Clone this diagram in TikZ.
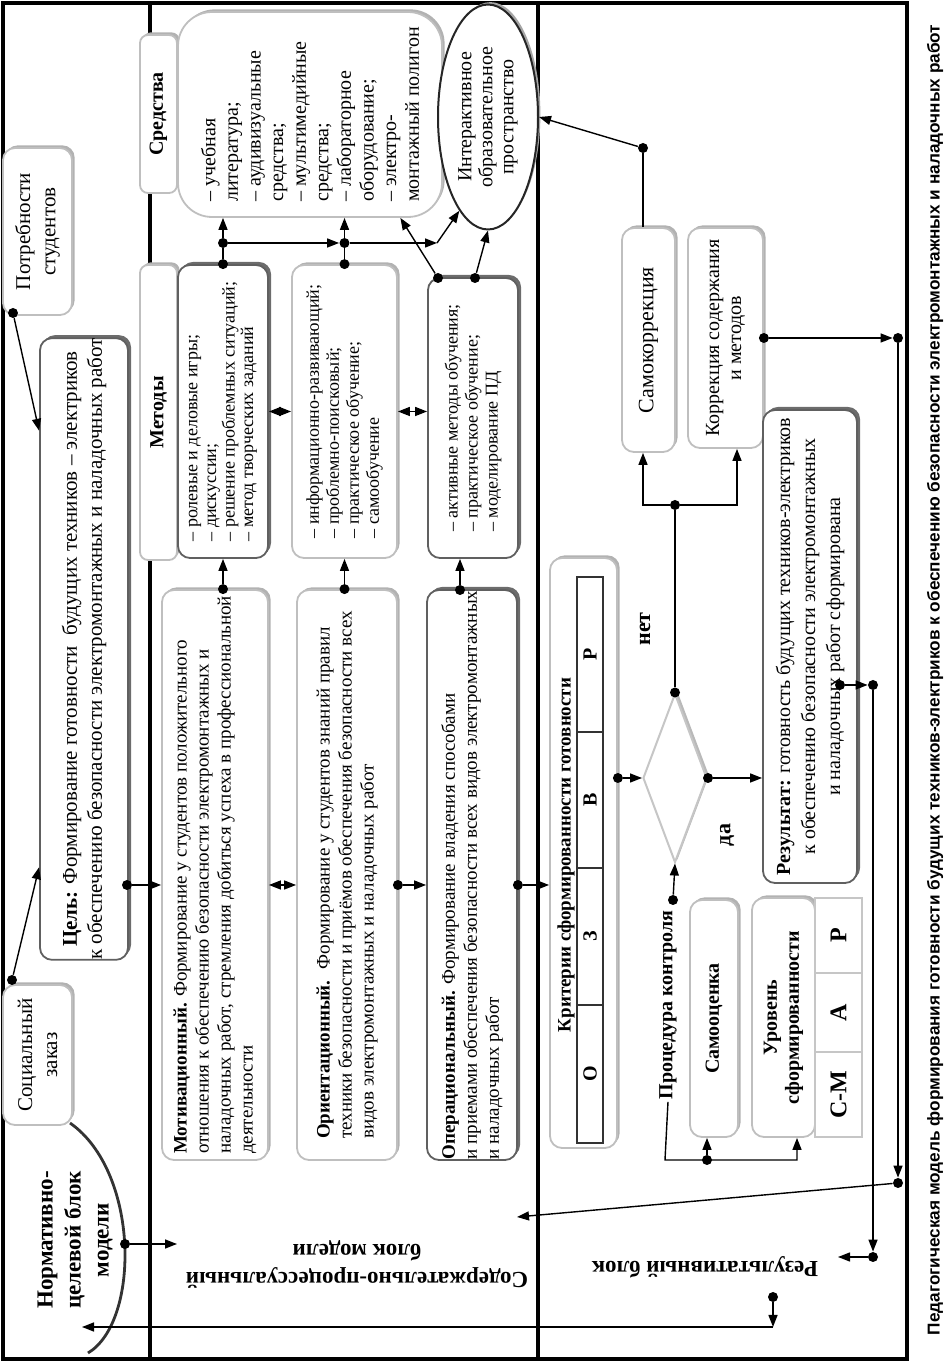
\documentclass[tikz,border=0pt]{standalone}
\usepackage{fontspec}
\setmainfont{Liberation Serif}
\newfontfamily\captionfont{Liberation Sans}
\usetikzlibrary{arrows.meta,shapes.geometric,shadows,calc}

\begin{document}
\begin{tikzpicture}[x=0.5pt, y=0.5pt,
  box/.style={draw=gray!50, line width=0.9pt, rounded corners=6pt, fill=white,
    drop shadow={shadow xshift=1.3pt, shadow yshift=1.3pt, fill=gray!60, opacity=1},
    inner sep=0pt, align=center, font=\fontsize{10}{11}\selectfont},
  darkbox/.style={box, draw=gray!75!black,
    drop shadow={shadow xshift=1.5pt, shadow yshift=1.5pt, fill=gray!85!black, opacity=1}},
  tabbox/.style={box, rounded corners=4pt, font=\bfseries\fontsize{10}{12}\selectfont},
  cell/.style={draw=gray!45, line width=0.6pt, inner sep=0pt, font=\bfseries\fontsize{12}{12}\selectfont},
  lbl/.style={font=\bfseries\fontsize{10}{11}\selectfont, inner sep=1pt, align=center},
  blocklbl/.style={font=\bfseries\fontsize{11.5}{14}\selectfont, align=center},
  dot/.style={circle, fill=black, inner sep=0pt, minimum size=5pt},
  arr/.style={-{Triangle[length=6pt, width=4.5pt]}, line width=0.7pt},
  dblarr/.style={{Triangle[length=6pt, width=4.5pt]}-{Triangle[length=6pt, width=4.5pt]}, line width=0.7pt},
  conn/.style={line width=0.7pt},
  thickline/.style={line width=2pt}
]
\begin{scope}[rotate=90, transform shape]
\useasboundingbox (0,0) rectangle (1362,-950);

% Frame and block borders
\draw[thickline] (3,-3) rectangle (1359,-907);
\draw[thickline] (3,-150) -- (1359,-150);
\draw[thickline] (3,-538) -- (1359,-538);

% Normative-target block
\node[box, minimum width=70pt, minimum height=34.5pt, font=\fontsize{10.5}{12.5}\selectfont] (order) at (307,-37.5) {Социальный\\заказ};
\node[box, minimum width=83.5pt, minimum height=34.5pt, font=\fontsize{10.5}{12.5}\selectfont] (needs) at (1130.5,-37.5) {Потребности\\студентов};
\node[darkbox, minimum width=286pt, minimum height=44pt, font=\fontsize{10.5}{12.5}\selectfont] (goal) at (713,-84) {\textbf{Цель:} Формирование готовности~ будущих техников – электриков\\к обеспечению безопасности электромонтажных и наладочных работ};
\draw[line width=1.4pt, black!80] (239,-70) .. controls (190,-140) and (40,-140) .. (9,-88);
\node[blocklbl] (normlbl) at (122,-75) {Нормативно-\\целевой блок\\модели};

% Content-process block
\node[blocklbl, rotate=90] (contlbl) at (98,-357) {Содержательно-процессуальный\\блок модели};
\node[box, minimum width=285pt, minimum height=53pt, align=left, font=\fontsize{9.5}{11}\selectfont] (motiv) at (487,-215) {\textbf{Мотивационный.} Формирование у студентов положительного\\отношения к обеспечению безопасности электромонтажных и\\наладочных работ, стремления добиться успеха в профессиональной\\деятельности};
\node[box, minimum width=285pt, minimum height=50pt, align=left, font=\fontsize{9.5}{11}\selectfont] (orient) at (487,-347) {\textbf{Ориентационный.}~ Формирование у студентов знаний правил\\техники безопасности и приёмов обеспечения безопасности всех\\видов электромонтажных и наладочных работ};
\node[darkbox, minimum width=285pt, minimum height=45pt, align=left, font=\fontsize{9.5}{11}\selectfont] (operat) at (487,-472) {\textbf{Операциональный.} Формирование владения способами\\и приемами обеспечения безопасности всех видов электромонтажных\\и наладочных работ};

% Methods
\node[tabbox, minimum width=147.5pt, minimum height=18.5pt] (methtab) at (949.5,-158.5) {Методы};
\node[darkbox, minimum width=146.5pt, minimum height=45pt, align=left, font=\fontsize{9}{9.3}\selectfont] (meth1) at (950.5,-223) {– ролевые и деловые игры;\\– дискуссии;\\– решение проблемных ситуаций;\\– метод творческих заданий};
\node[box, minimum width=146.5pt, minimum height=52.5pt, align=left, font=\fontsize{9}{10}\selectfont] (meth2) at (950.5,-344.5) {– информационно-развивающий;\\– проблемно-поисковый;\\– практическое обучение;\\– самообучение};
\node[darkbox, minimum width=140pt, minimum height=45pt, align=left, font=\fontsize{9}{10}\selectfont] (meth3) at (944,-473) {– активные методы обучения;\\– практическое обучение;\\– моделирование ПД};

% Means
\node[tabbox, minimum width=79pt, minimum height=18.5pt] (meantab) at (1248,-158.5) {Средства};
\node[box, rounded corners=17pt, minimum width=102.5pt, minimum height=132pt, align=left, font=\fontsize{10}{11.3}\selectfont] (means) at (1247.5,-310) {– учебная\\литература;\\– аудивизуальные\\средства;\\– мультимедийные\\средства;\\– лабораторное\\оборудование;\\– электро-\\монтажный полигон};
\node[ellipse, draw=gray!30!black, line width=1pt, fill=white, minimum width=112.5pt, minimum height=50pt, inner sep=0pt, align=center, font=\fontsize{10}{10.5}\selectfont,
  drop shadow={shadow xshift=1.2pt, shadow yshift=1.2pt, fill=gray!70, opacity=1}] (space) at (1245,-488) {Интерактивное\\образовательное\\пространство};

% Result block
\node[blocklbl, rotate=90] (reslbl) at (95,-705) {Результативный блок};
\node[box, minimum width=295pt, minimum height=33.5pt] (crit) at (509,-583.5) {};
\node[lbl, font=\bfseries\fontsize{9.5}{10}\selectfont] (crittitle) at (507,-566) {Критерии сформированности готовности};
\node[cell, draw=black!80, minimum width=69pt, minimum height=13pt, font=\bfseries\fontsize{10}{10}\selectfont] (critO) at (288,-590) {О};
\node[cell, draw=black!80, minimum width=68.5pt, minimum height=13pt, font=\bfseries\fontsize{10}{10}\selectfont] (critZ) at (425.5,-590) {З};
\node[cell, draw=black!80, minimum width=68pt, minimum height=13pt, font=\bfseries\fontsize{10}{10}\selectfont] (critV) at (562,-590) {В};
\node[cell, draw=black!80, minimum width=77.5pt, minimum height=13pt, font=\bfseries\fontsize{10}{10}\selectfont] (critR) at (707.5,-590) {Р};
\node[diamond, draw=gray!45, line width=1pt, fill=white, minimum width=84.5pt, minimum height=32pt, inner sep=0pt,
  drop shadow={shadow xshift=1.2pt, shadow yshift=1.2pt, fill=gray!55, opacity=1}] (check) at (584,-675) {};
\node[lbl] (proc) at (357,-668) {Процедура контроля};
\node[box, minimum width=118.5pt, minimum height=24pt, font=\bfseries\fontsize{10}{11}\selectfont] (self) at (343.5,-714) {Самооценка};
\node[box, minimum width=119.5pt, minimum height=31.5pt, font=\bfseries\fontsize{10}{11}\selectfont] (level) at (344.5,-783.5) {Уровень\\сформированности};
\node[cell, minimum width=42.5pt, minimum height=23.5pt, fill=white] (lvlSM) at (267.5,-838.5) {С-М};
\node[cell, minimum width=39.5pt, minimum height=23.5pt, fill=white] (lvlA) at (349.5,-838.5) {А};
\node[cell, minimum width=37.5pt, minimum height=23.5pt, fill=white] (lvlR) at (426.5,-838.5) {Р};
\node[box, minimum width=112pt, minimum height=26.5pt, font=\fontsize{11}{12}\selectfont] (selfcor) at (1022,-648.5) {Самокоррекция};
\node[box, minimum width=110pt, minimum height=37.5pt] (corr) at (1024,-725.5) {Коррекция содержания\\и методов};
\node[darkbox, minimum width=236.5pt, minimum height=47pt, font=\fontsize{10}{12.5}\selectfont] (result) at (715.5,-810) {\textbf{Результат:} готовность будущих техников-электриков\\к обеспечению безопасности электромонтажных\\и наладочных работ сформирована};
\node[lbl, font=\bfseries\fontsize{11}{12}\selectfont] (no) at (733,-645) {нет};
\node[lbl, font=\bfseries\fontsize{11}{12}\selectfont] (yes) at (527,-727) {да};

% Caption
\node[font=\captionfont\bfseries\fontsize{8.6}{10}\selectfont] (caption) at (682,-935) {Педагогическая модель формирования готовности будущих техников-электриков к обеспечению безопасности электромонтажных и наладочных работ};

% Arrows of the normative block
\node[dot] (dneeds) at (1049,-13) {};
\draw[arr] (dneeds) -- ($(goal.north west)!0.85!(goal.north east)$);
\node[dot] (dorder) at (382,-12) {};
\draw[arr] (dorder) -- ($(goal.north west)!0.15!(goal.north east)$);
\node[dot] (dgoal) at (477,-127) {};
\draw[arr] (dgoal) -- (dgoal |- motiv.north);
\node[dot] (dnorm) at (118,-125) {};
\coordinate (contin) at (118,-177);
\draw[arr] (dnorm) -- (contin);

% Arrows between components
\draw[dblarr] (dgoal |- motiv.south) -- (dgoal |- orient.north);
\node[dot] (dorient) at (dgoal |- orient.south) {};
\draw[arr] (dorient) -- (dorient |- operat.north);
\node[dot] (doperat) at (dgoal |- operat.south) {};
\draw[arr] (doperat) -- (doperat |- crit.north);
\node[dot] (dmotiv) at (motiv.east |- meth1.west) {};
\draw[arr] (dmotiv) -- (dmotiv -| meth1.west);
\node[dot] (dorient2) at (orient.east |- meth2.west) {};
\draw[arr] (dorient2) -- (dorient2 -| meth2.west);
\node[dot] (doperat2) at (772,-460) {};
\draw[arr] (doperat2) -- (doperat2 -| meth3.west);
\draw[dblarr] (meth1.south) -- (meth1.south |- meth2.north);
\draw[dblarr] (meth2.south) -- (meth2.south |- meth3.north);

% Methods to means
\node[dot] (dmeth1) at (meth1.east) {};
\node[dot] (jmeth1) at (1119,-223) {};
\draw[conn] (dmeth1) -- (jmeth1);
\draw[arr] (jmeth1) -- (jmeth1 -| means.west);
\node[dot] (dmeth2) at (meth2.east) {};
\node[dot] (jmeth2) at (1119,-344.5) {};
\draw[conn] (dmeth2) -- (jmeth2);
\draw[arr] (jmeth1) -- (jmeth2);
\draw[arr] (jmeth2) -- (jmeth2 -| means.west);
\coordinate (bend) at (1119,-437);
\draw[arr] (jmeth2) -- (bend);
\draw[arr] (bend) -- (space.163);
\node[dot] (dmeth3a) at (1084,-438) {};
\node[dot] (dmeth3b) at (1084,-475) {};
\draw[arr] (dmeth3a) -- ($(means.south west)!0.16!(means.north west)$);
\draw[arr] (dmeth3b) -- (space.west);

% Control procedure
\node[dot] (dcrit) at (check.north |- crit.south) {};
\draw[arr] (dcrit) -- (check.north);
\node[dot] (dproc) at (462,-673) {};
\draw[arr] (dproc) -- (check.west);
\coordinate (pc1) at (202,-665);
\coordinate (pc2) at (202,-797);
\draw[arr] (proc.west) -- (pc1) -- (pc2) -- (pc2 -| level.west);
\node[dot] (dpc) at (202,-707) {};
\draw[arr] (dpc) -- (dpc -| self.west);

% Decision
\node[dot] (dno) at (check.east) {};
\node[dot] (jno) at (857,-675) {};
\coordinate (jnoa) at (857,-643);
\coordinate (jnob) at (857,-737);
\draw[conn] (dno) -- (jno);
\draw[arr] (jno) -- (jnoa) -- (jnoa -| selfcor.west);
\draw[arr] (jno) -- (jnob) -- (jnob -| corr.west);
\node[dot] (dyes) at (check.south) {};
\draw[arr] (dyes) -- (dyes |- result.north);

% Feedback lines
\node[dot] (dself) at (1214,-643) {};
\draw[conn] (dself -| selfcor.east) -- (dself);
\draw[arr] (dself) -- (space.south);
\node[dot] (dcorr) at (corr.south) {};
\node[dot] (fb1) at (1024,-898) {};
\draw[arr] (dcorr) -- (fb1);
\node[dot] (fb2) at (179,-898) {};
\draw[arr] (fb1) -- (fb2);
\coordinate (contin2) at (145,-517);
\draw[arr] (fb2) -- (contin2);
\node[dot] (dres) at (677,-840) {};
\node[dot] (fb3) at (677,-873) {};
\draw[arr] (dres) -- (fb3);
\node[dot] (fb4) at (105,-873) {};
\draw[arr] (fb3) -- (fb4);
\coordinate (resin) at (105,-838);
\draw[arr] (fb4) -- (resin);
\node[dot] (dreslbl) at (65,-773) {};
\coordinate (fb5) at (35,-773);
\coordinate (normin) at (35,-82);
\draw[arr] (dreslbl) -- (fb5);
\draw[arr] (fb5) -- (normin);

\end{scope}
\end{tikzpicture}
\end{document}
